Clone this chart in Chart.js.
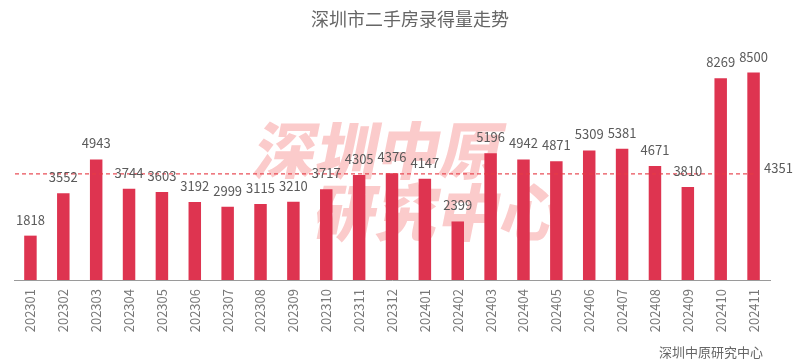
<!DOCTYPE html>
<html>
<head>
<meta charset="utf-8">
<script src="https://cdn.jsdelivr.net/npm/chart.js@4"></script>
<style>
html,body{margin:0;padding:0;background:#fff;}
#wrap{width:800px;height:364px;position:relative;}
</style>
</head>
<body>
<div id="wrap"><canvas id="c" width="800" height="364"></canvas></div>
<script>
const categories = ["202301","202302","202303","202304","202305","202306","202307","202308","202309","202310","202311","202312","202401","202402","202403","202404","202405","202406","202407","202408","202409","202410","202411"];
const volumes = [1818,3552,4943,3744,3603,3192,2999,3115,3210,3717,4305,4376,4147,2399,5196,4942,4871,5309,5381,4671,3810,8269,8500];
const averageValue = 4351;
const titleText = "深圳市二手房录得量走势";
const sourceText = "深圳中原研究中心";
const watermarkLines = ["深圳中原", "研究中心"];

const FONT = '"Noto Sans CJK SC", "Noto Sans", sans-serif';

const extras = {
  id: 'extras',
  beforeDatasetsDraw(chart) {
    const ctx = chart.ctx;
    ctx.save();
    ctx.fillStyle = 'rgba(245,110,110,0.36)';
    ctx.font = '900 62px ' + FONT;
    ctx.textBaseline = 'middle';
    ctx.textAlign = 'left';
    const drawSk = (txt, x, y) => {
      ctx.save();
      ctx.translate(x, y);
      ctx.transform(1, 0, -0.2, 1, 0, 0);
      ctx.fillText(txt, 0, 0);
      ctx.restore();
    };
    drawSk(watermarkLines[0], 256, 150);
    drawSk(watermarkLines[1], 316, 212);
    ctx.restore();
  },
  afterDatasetsDraw(chart) {
    const ctx = chart.ctx;
    const ys = chart.scales.y;
    const area = chart.chartArea;
    const meta = chart.getDatasetMeta(0);
    ctx.save();
    const yAvg = ys.getPixelForValue(averageValue);
    ctx.strokeStyle = 'rgba(230,60,70,0.9)';
    ctx.lineWidth = 1.3;
    ctx.setLineDash([4, 3]);
    ctx.beginPath();
    ctx.moveTo(area.left + 1, yAvg);
    ctx.lineTo(meta.data[meta.data.length - 1].x, yAvg);
    ctx.stroke();
    ctx.setLineDash([]);
    ctx.fillStyle = '#5a5a5a';
    ctx.font = '13px ' + FONT;
    ctx.textAlign = 'center';
    ctx.textBaseline = 'middle';
    meta.data.forEach((bar, i) => {
      ctx.fillText(String(volumes[i]), bar.x, bar.y - 16);
    });
    ctx.textAlign = 'left';
    ctx.fillText(String(averageValue), area.right - 6, yAvg - 6);
    ctx.fillStyle = '#666';
    ctx.font = '18px ' + FONT;
    ctx.textAlign = 'center';
    ctx.fillText(titleText, 410, 19);
    ctx.fillStyle = '#666';
    ctx.font = '13px ' + FONT;
    ctx.textAlign = 'right';
    ctx.fillText(sourceText, 763, 352);
    ctx.restore();
  }
};

new Chart(document.getElementById('c'), {
  type: 'bar',
  data: {
    labels: categories,
    datasets: [{
      data: volumes,
      backgroundColor: 'rgb(222,52,80)',
      barPercentage: 0.76,
      categoryPercentage: 0.5
    }]
  },
  options: {
    responsive: false,
    animation: false,
    devicePixelRatio: 1,
    layout: { padding: { left: 14, right: 30, top: 36, bottom: 0 } },
    plugins: { legend: { display: false }, tooltip: { enabled: false } },
    scales: {
      y: { display: false, min: 0, max: 10000 },
      x: {
        grid: { display: false, drawTicks: false },
        border: { display: true, color: '#9a9a9a', width: 1 },
        ticks: {
          color: '#777',
          font: { size: 13, family: FONT },
          minRotation: 90, maxRotation: 90,
          padding: 9, autoSkip: false
        },
        afterFit(scale) { scale.height = 84; }
      }
    }
  },
  plugins: [extras]
});
</script>
</body>
</html>
